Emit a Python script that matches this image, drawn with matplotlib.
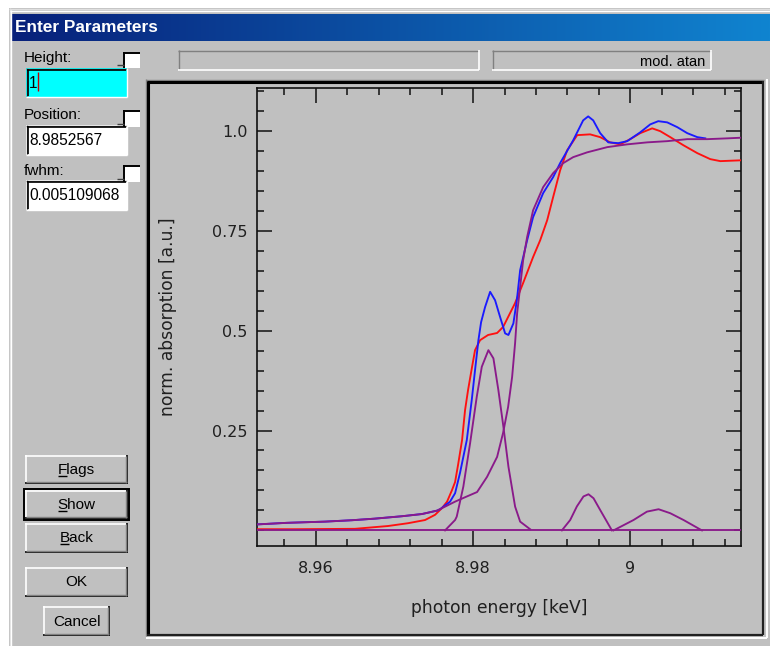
import matplotlib
matplotlib.use("Agg")
import matplotlib.pyplot as plt
import numpy as np
from matplotlib.patches import Rectangle
from matplotlib.colors import LinearSegmentedColormap
from matplotlib.ticker import FixedLocator, FixedFormatter, MultipleLocator

# ---------------- data ----------------
red_x = [8.95248, 8.95732, 8.96497, 8.96917, 8.97172, 8.97389, 8.97516, 8.97605, 8.97669,
         8.97732, 8.97771, 8.97809, 8.97860, 8.97898, 8.97936, 8.97987, 8.98025, 8.98089,
         8.98191, 8.98306, 8.98382, 8.98446, 8.98535, 8.98637, 8.98764, 8.98854, 8.98943,
         8.99019, 8.99108, 8.99197, 8.99325, 8.99490, 8.99618, 8.99745, 8.99873, 9.00000,
         9.00127, 9.00280, 9.00382, 9.00510, 9.00675, 9.00854, 9.01019, 9.01147, 9.01401]
red_y = [0.003, 0.003, 0.004, 0.011, 0.018, 0.026, 0.039, 0.056, 0.072,
         0.101, 0.121, 0.164, 0.226, 0.301, 0.351, 0.409, 0.451, 0.476,
         0.489, 0.494, 0.509, 0.534, 0.569, 0.619, 0.684, 0.726, 0.776,
         0.834, 0.901, 0.951, 0.989, 0.991, 0.984, 0.971, 0.966, 0.979,
         0.994, 1.006, 0.999, 0.984, 0.964, 0.944, 0.929, 0.924, 0.926]

blue_x = [8.95248, 8.95631, 8.96115, 8.96459, 8.96752, 8.97096, 8.97350, 8.97541, 8.97580,
          8.97707, 8.97771, 8.97834, 8.97920, 8.97983, 8.98025, 8.98068, 8.98102, 8.98153,
          8.98217, 8.98280, 8.98344, 8.98408, 8.98450, 8.98513, 8.98557, 8.98599, 8.98688,
          8.98764, 8.98892, 8.99019, 8.99108, 8.99274, 8.99401, 8.99465, 8.99529, 8.99618,
          8.99720, 8.99847, 8.99962, 9.00127, 9.00255, 9.00357, 9.00471, 9.00599, 9.00726,
          9.00854, 9.00955]
blue_y = [0.015, 0.019, 0.022, 0.0255, 0.0295, 0.0355, 0.041, 0.0495, 0.053,
          0.072, 0.093, 0.144, 0.226, 0.326, 0.401, 0.476, 0.521, 0.559,
          0.597, 0.576, 0.534, 0.493, 0.489, 0.518, 0.576, 0.651, 0.726,
          0.784, 0.844, 0.884, 0.919, 0.976, 1.026, 1.036, 1.026, 0.994,
          0.971, 0.969, 0.974, 0.996, 1.016, 1.024, 1.021, 1.009, 0.994,
          0.984, 0.981]

step_x = [8.95248, 8.95631, 8.96115, 8.96459, 8.96752, 8.97096, 8.97350, 8.97541, 8.97771,
          8.97898, 8.98051, 8.98178, 8.98306, 8.98382, 8.98446, 8.98497, 8.98535, 8.98561,
          8.98599, 8.98637, 8.98688, 8.98764, 8.98892, 8.99019, 8.99147, 8.99274, 8.99452,
          8.99707, 8.99962, 9.00217, 9.00471, 9.00726, 9.00981, 9.01236, 9.01401]
step_y = [0.015, 0.019, 0.022, 0.0255, 0.0295, 0.0355, 0.041, 0.0495, 0.072,
          0.083, 0.096, 0.134, 0.184, 0.244, 0.309, 0.384, 0.469, 0.544,
          0.609, 0.676, 0.734, 0.801, 0.859, 0.894, 0.919, 0.934, 0.946,
          0.959, 0.966, 0.971, 0.974, 0.979, 0.979, 0.981, 0.9825]

peak1_x = [8.97643, 8.97771, 8.97792, 8.97876, 8.97962, 8.98047, 8.98111, 8.98195, 8.98259,
           8.98322, 8.98386, 8.98450, 8.98535, 8.98599, 8.98726]
peak1_y = [0.0, 0.026, 0.0345, 0.1095, 0.218, 0.3345, 0.4095, 0.451, 0.4305,
           0.351, 0.2595, 0.1595, 0.0595, 0.022, 0.003]

peak2_x = [8.99130, 8.99236, 8.99321, 8.99405, 8.99469, 8.99533, 8.99618, 8.99703, 8.99767]
peak2_y = [0.0, 0.026, 0.060, 0.085, 0.0905, 0.0805, 0.051, 0.022, 0.0]

peak3_x = [8.99787, 9.00042, 9.00213, 9.00361, 9.00510, 9.00679, 9.00913]
peak3_y = [0.0, 0.026, 0.047, 0.053, 0.043, 0.026, 0.0]

x_limits = [8.9525, 9.0141]
y_limits = [-0.039, 1.107]
baseline_y = 0.0

x_major = [8.96, 8.98, 9.00]
x_major_labels = ["8.96", "8.98", "9"]
x_minor_step = 0.004
y_major = [0.25, 0.5, 0.75, 1.0]
y_major_labels = ["0.25", "0.5", "0.75", "1.0"]
y_minor_step = 0.05

x_label = "photon energy [keV]"
y_label = "norm. absorption [a.u.]"
title_text = "Enter Parameters"
field_labels = ["Height:", "Position:", "fwhm:"]
field_values = ["1", "8.9852567", "0.005109068"]
model_name = "mod. atan"
buttons = ["Flags", "Show", "Back", "OK", "Cancel"]
accelerated = [True, True, True, False, False]

# ---------------- figure ----------------
W, H = 770, 646
fig = plt.figure(figsize=(W / 100, H / 100), dpi=100)
fig.patch.set_facecolor("white")

GRAY = "#c0c0c0"
DARK = "#808080"
UI_FONT = "Liberation Sans"

bg = fig.add_axes([0, 0, 1, 1], zorder=0)
bg.set_xlim(0, W)
bg.set_ylim(H, 0)
bg.axis("off")


def rect(x0, y0, x1, y1, fc, ec="none", lw=0, z=1):
    bg.add_patch(Rectangle((x0, y0), x1 - x0, y1 - y0, facecolor=fc, edgecolor=ec,
                           linewidth=lw, zorder=z))


def hline(x0, x1, y, c, lw=1.0, z=3):
    bg.plot([x0, x1], [y, y], color=c, lw=lw, solid_capstyle="butt", zorder=z)


def vline(x, y0, y1, c, lw=1.0, z=3):
    bg.plot([x, x], [y0, y1], color=c, lw=lw, solid_capstyle="butt", zorder=z)


def sunken(x0, y0, x1, y1, fc):
    rect(x0, y0, x1, y1, fc, z=2)
    hline(x0, x1, y0 + 0.5, DARK, 1.0)
    vline(x0 + 0.5, y0, y1, DARK, 1.0)
    hline(x0 + 1, x1 - 1, y0 + 1.8, "black", 1.2)
    vline(x0 + 1.8, y0 + 1, y1 - 1, "black", 1.2)
    hline(x0, x1, y1 - 0.5, "white", 1.0)
    vline(x1 - 0.5, y0, y1, "white", 1.0)


def raised(x0, y0, x1, y1, default=False):
    rect(x0, y0, x1, y1, GRAY, z=2)
    hline(x0, x1, y0 + 0.7, "white", 1.2)
    vline(x0 + 0.7, y0, y1, "white", 1.2)
    hline(x0, x1, y1 - 0.7, "black", 1.2)
    vline(x1 - 0.7, y0, y1, "black", 1.2)
    hline(x0 + 1, x1 - 1, y1 - 2.2, DARK, 1.0)
    vline(x1 - 2.2, y0 + 1, y1 - 1, DARK, 1.0)
    if default:
        bg.add_patch(Rectangle((x0 - 1, y0 - 1), x1 - x0 + 2, y1 - y0 + 2, facecolor="none",
                               edgecolor="black", linewidth=1.4, zorder=4))


# dialog body
rect(9, 8, W, H, GRAY, z=1)
hline(9, W, 8.5, "#dfdfdf", 1.0)
vline(9.5, 8, H, "#dfdfdf", 1.0)
hline(10, W, 10.5, "white", 1.0)
vline(10.5, 10, H, "white", 1.0)

# title bar gradient
grad = np.linspace(0, 1, 256).reshape(1, -1)
tcmap = LinearSegmentedColormap.from_list("t", ["#08207a", "#1084d0"])
bg.imshow(grad, cmap=tcmap, extent=[11, W, 41, 14], aspect="auto", zorder=2)
bg.set_xlim(0, W)
bg.set_ylim(H, 0)
bg.text(15, 28, title_text, color="white", fontsize=12.4, fontweight="bold",
        family=UI_FONT, va="center", ha="left", zorder=5)

# parameter fields
label_y = [58, 115, 171]
box_y = [(68, 97), (125, 155), (180, 210)]
chk_y = [(52, 68), (110, 127), (165, 182)]
box_fc = ["#00ffff", "white", "white"]
for lab, val, ly, (by0, by1), (cy0, cy1), fc in zip(field_labels, field_values, label_y,
                                                    box_y, chk_y, box_fc):
    bg.text(24, ly, lab, fontsize=11, family=UI_FONT, va="center", ha="left",
            color="black", zorder=5)
    sunken(26, by0, 127, by1, fc)
    bg.text(29, (by0 + by1) / 2 + 0.5, val, fontsize=11.2, family=UI_FONT, va="center",
            ha="left", color="black", zorder=5)
    # checkbox
    rect(123, cy0, 140, cy1, "white", z=2)
    hline(123, 140, cy0 + 1, "black", 1.4)
    vline(124, cy0, cy1, "black", 1.4)
    hline(117, 124, cy1 - 3, "#404040", 1.0)
# text cursor in the active field
vline(38, 72, 91, "#c00000", 1.0, z=6)

# status boxes on top
for (x0, x1) in [(178, 479), (492, 711)]:
    rect(x0, 50, x1, 70, GRAY, z=2)
    hline(x0, x1, 50.5, DARK, 1.0)
    vline(x0 + 0.5, 50, 70, DARK, 1.0)
    hline(x0, x1, 69.5, "white", 1.2)
    vline(x1 - 0.5, 50, 70, "white", 1.2)
bg.text(705, 62, model_name, fontsize=10.5, family=UI_FONT, ha="right", va="center",
        color="black", zorder=5)

# plot frame
hline(146, 764, 79.5, DARK, 1.0)
vline(145.5, 79, 636, DARK, 1.0)
hline(147, 763, 81.5, "black", 2.2)
vline(147.5, 81, 635, "black", 2.2)
hline(147, 763, 634.5, "#202020", 1.6)
vline(762.5, 81, 635, "#202020", 1.6)
hline(146, 767, 637.5, "white", 1.4)
vline(766.5, 79, 638, "white", 1.4)

# buttons
btn_box = [(25, 455, 128, 484), (25, 490, 128, 519), (25, 523, 128, 553),
           (25, 567, 128, 597), (43, 606, 110, 636)]
btn_texts = []
for name, (x0, y0, x1, y1), acc in zip(buttons, btn_box, accelerated):
    raised(x0, y0, x1, y1, default=(name == "Show"))
    t = bg.text((x0 + x1) / 2, (y0 + y1) / 2 + 0.5, name, fontsize=11, family=UI_FONT,
                ha="center", va="center", color="black", zorder=5)
    btn_texts.append((t, name, acc))

# ---------------- chart ----------------
ax_l, ax_r, ax_t, ax_b = 257, 741, 88, 546
ax = fig.add_axes([ax_l / W, 1 - ax_b / H, (ax_r - ax_l) / W, (ax_b - ax_t) / H], zorder=2)
ax.set_facecolor("none")

LW = 1.35
PURPLE = "#8a1a8a"
ax.plot(red_x, red_y, color="#ff1010", lw=LW, zorder=3)
ax.plot(blue_x, blue_y, color="#1a1aff", lw=LW, zorder=3)
ax.plot(x_limits, [baseline_y, baseline_y], color=PURPLE, lw=LW, zorder=4)
ax.plot(step_x, step_y, color=PURPLE, lw=LW, zorder=4)
ax.plot(peak1_x, peak1_y, color=PURPLE, lw=LW, zorder=4)
ax.plot(peak2_x, peak2_y, color=PURPLE, lw=LW, zorder=4)
ax.plot(peak3_x, peak3_y, color=PURPLE, lw=LW, zorder=4)

ax.set_xlim(*x_limits)
ax.set_ylim(*y_limits)

ax.xaxis.set_major_locator(FixedLocator(x_major))
ax.xaxis.set_major_formatter(FixedFormatter(x_major_labels))
ax.xaxis.set_minor_locator(MultipleLocator(x_minor_step))
ax.yaxis.set_major_locator(FixedLocator(y_major))
ax.yaxis.set_major_formatter(FixedFormatter(y_major_labels))
ax.yaxis.set_minor_locator(MultipleLocator(y_minor_step))

ax.tick_params(which="both", direction="in", top=True, right=True, color="#101010",
               width=1.1, labelsize=11.5, labelcolor="#202020")
ax.tick_params(which="major", length=10.5)
ax.tick_params(which="minor", length=5.2)
ax.tick_params(axis="x", which="major", pad=11)
ax.tick_params(axis="y", which="major", pad=7)
for s in ax.spines.values():
    s.set_linewidth(1.2)
    s.set_color("#101010")

ax.set_xlabel(x_label, fontsize=12.3, color="#202020")
ax.set_ylabel(y_label, fontsize=12.3, color="#202020")
ax.xaxis.set_label_coords(0.5, -(608 - ax_b) / (ax_b - ax_t), transform=ax.transAxes)
ax.yaxis.set_label_coords(-(257 - 168) / (ax_r - ax_l), 0.5, transform=ax.transAxes)
ax.xaxis.label.set_va("center")
ax.yaxis.label.set_va("center")

# underline accelerator letters, measured from the rendered button texts
fig.canvas.draw()
renderer = fig.canvas.get_renderer()
inv = bg.transData.inverted()
for t, name, acc in btn_texts:
    if not acc:
        continue
    bb = t.get_window_extent(renderer)
    probe = bg.text(0, 0, name[0], fontsize=11, family=UI_FONT)
    pb = probe.get_window_extent(renderer)
    probe.remove()
    (xa, ya), = inv.transform([[bb.x0, bb.y0]])
    (xb, yb), = inv.transform([[bb.x0 + pb.width, bb.y0]])
    # baseline ~ bottom of bbox minus descent; place line slightly above bottom
    uy = ya - 1.5
    hline(xa + 0.5, xb - 0.5, uy, "black", 1.0, z=6)

fig.savefig("out.png", dpi=100, facecolor=fig.get_facecolor())
